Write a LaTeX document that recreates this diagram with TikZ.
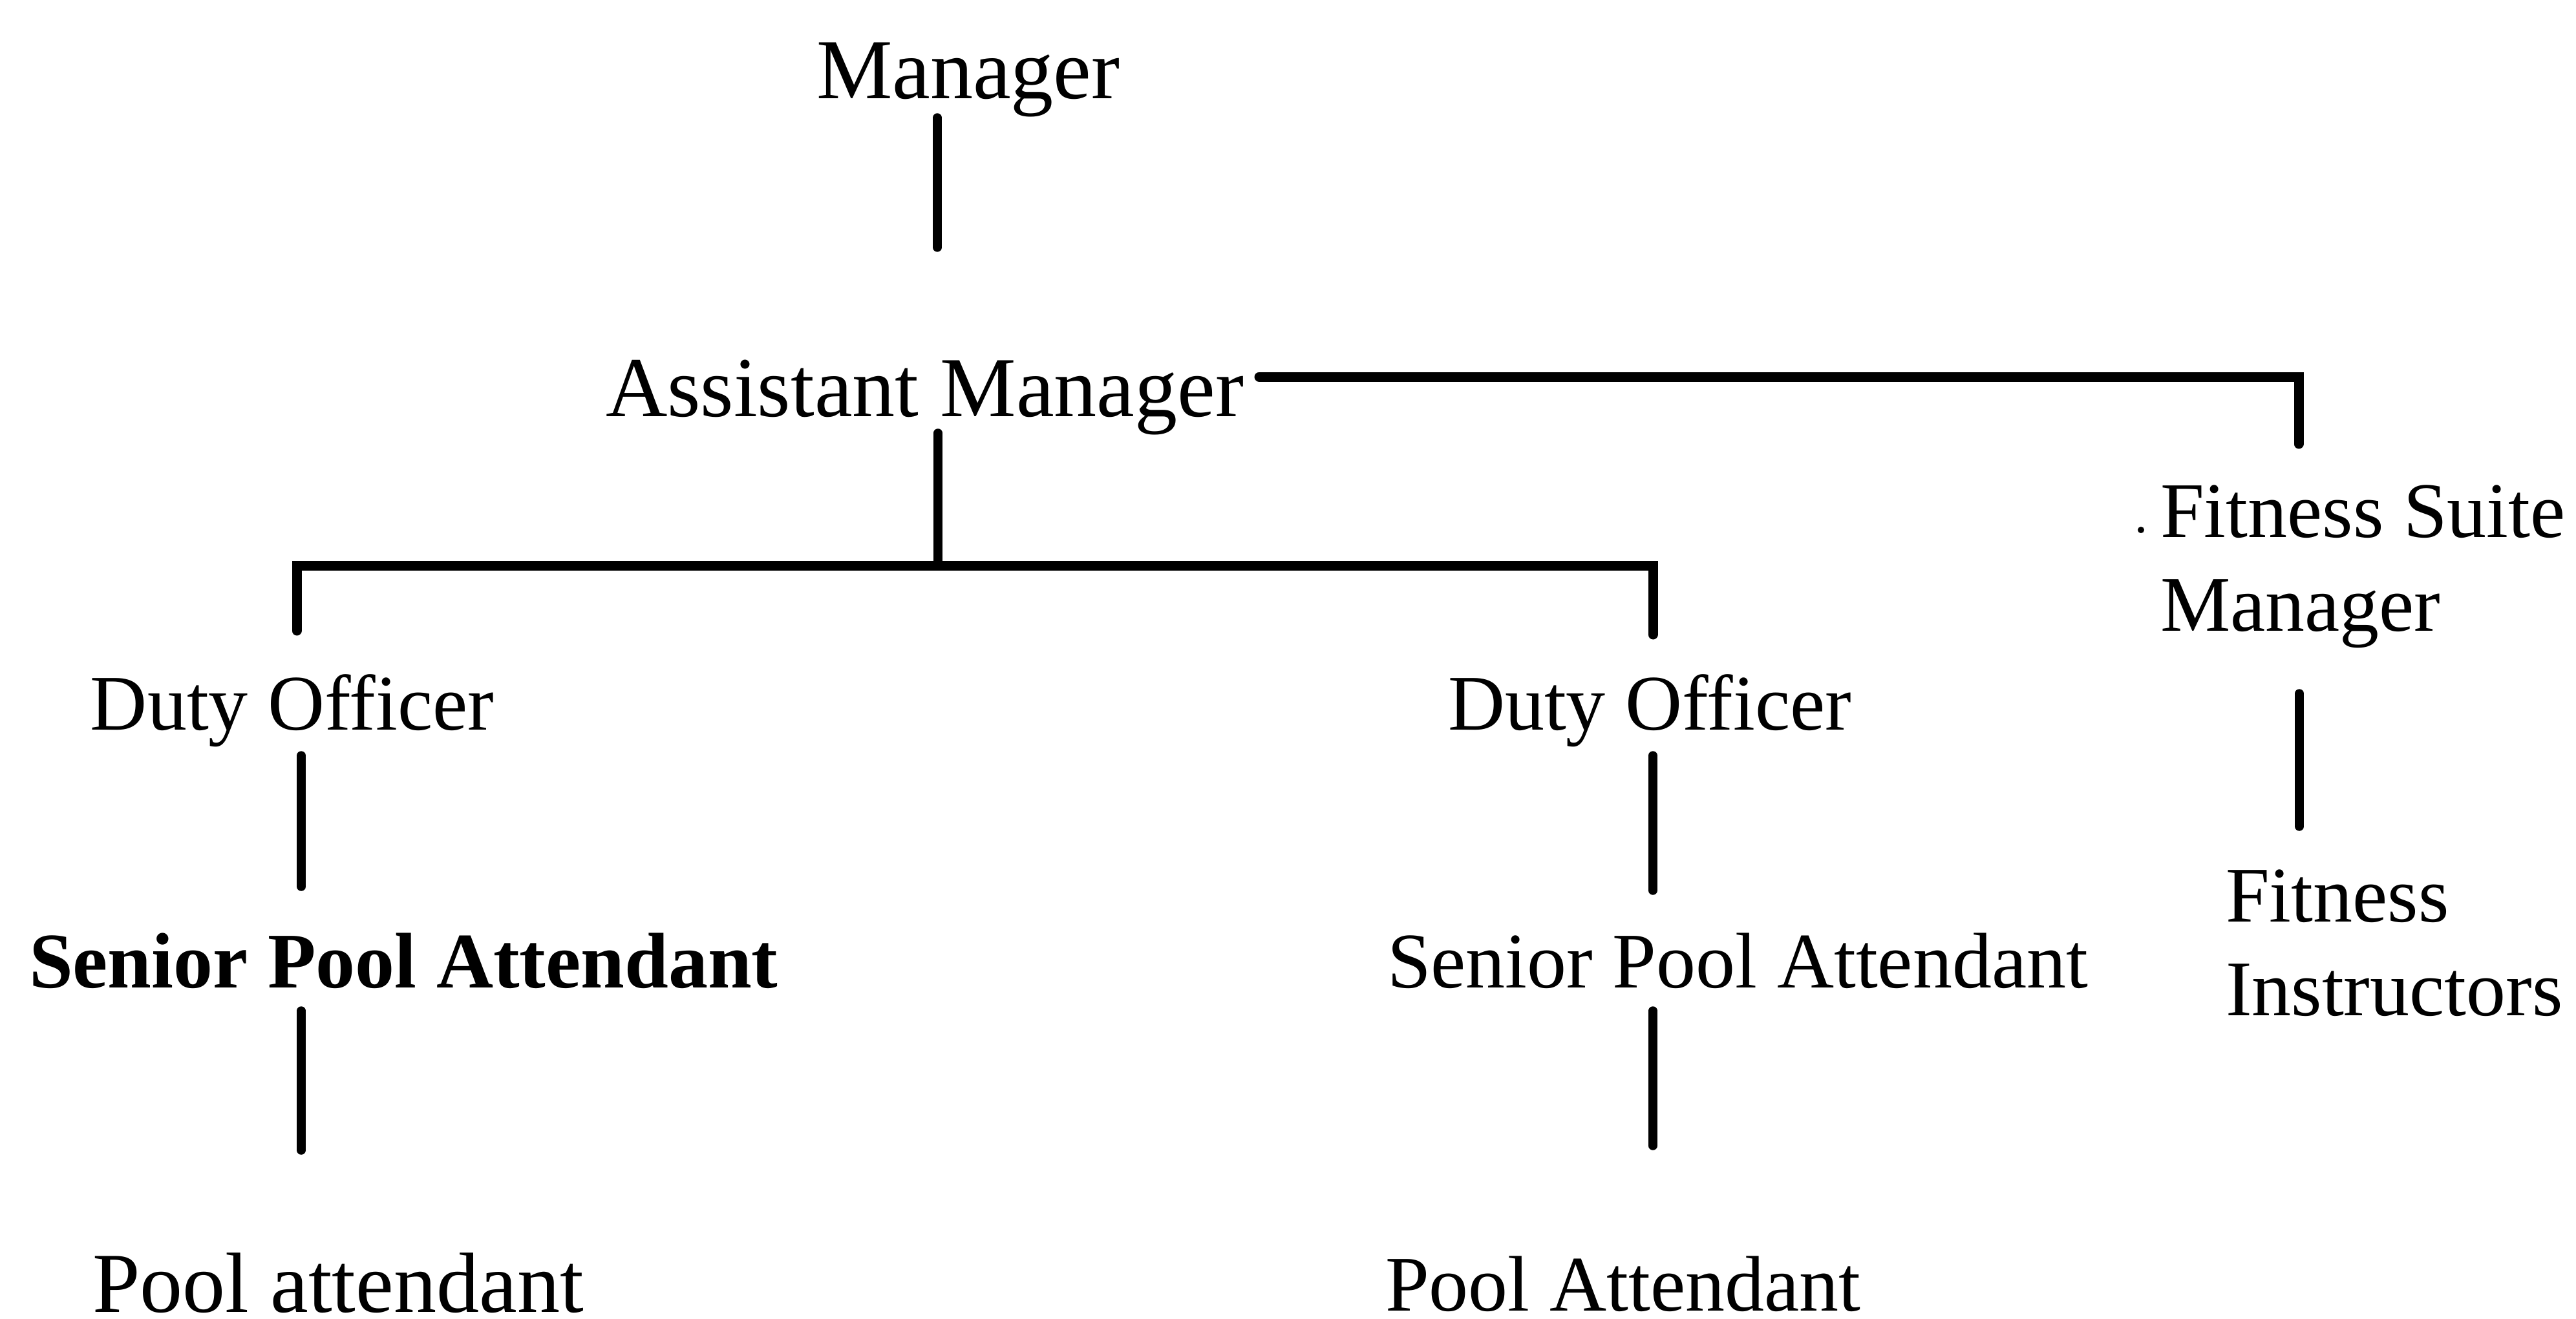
\documentclass[tikz,border=0pt]{standalone}
\usepackage{fontspec}
\setmainfont{Liberation Serif}
\begin{document}
\begin{tikzpicture}[x=1cm,y=-1cm,
  lbl/.style={inner sep=0pt, outer sep=0pt, anchor=base west},
  big/.style={font=\fontsize{37.6}{45}\selectfont},
  reg/.style={font=\fontsize{34.7}{41.2}\selectfont},
  link/.style={line width=0.135cm, line cap=round},
  bracket/.style={line width=0.15cm, line cap=round, line join=miter}]
\useasboundingbox (0,0) rectangle (39.85,20.41);

% staff titles (two-line titles are placed by the baseline of their last line)
\node[lbl,big] (mgr)  at (12.63,1.53)  {Manager};
\node[lbl,big] (am)   at (9.37,6.44)   {Assistant Manager};
\node[lbl,reg] (do1)  at (1.40,11.29)  {Duty Officer};
\node[lbl,reg] (do2)  at (22.40,11.29) {Duty Officer};
\node[lbl,reg] (spa1) at (0.45,15.28)  {\bfseries Senior Pool Attendant};
\node[lbl,reg] (spa2) at (21.46,15.28) {Senior Pool Attendant};
\node[lbl,big] (pa1)  at (1.43,20.30)  {Pool attendant};
\node[lbl,reg] (pa2)  at (21.43,20.28) {Pool Attendant};
\node[lbl,reg,align=left] (fsm) at (33.42,9.76)  {Fitness Suite\\Manager};
\node[lbl,reg,align=left] (fi)  at (34.43,15.71) {Fitness\\Instructors};
\fill (33.12,8.20) circle (0.05);

% connector end points
\coordinate (mgr-d)  at (14.50,1.82);
\coordinate (am-u)   at (14.50,3.83);
\coordinate (am-d)   at (14.51,6.70);
\coordinate (split)  at (14.51,8.75);
\coordinate (do1-u)  at (4.59,9.76);
\coordinate (do2-u)  at (25.57,9.82);
\coordinate (am-r)   at (19.48,5.83);
\coordinate (fsm-u)  at (35.56,6.87);
\coordinate (do1-d)  at (4.66,11.69);
\coordinate (spa1-u) at (4.66,13.72);
\coordinate (spa1-d) at (4.66,15.64);
\coordinate (pa1-u)  at (4.66,17.80);
\coordinate (do2-d)  at (25.57,11.69);
\coordinate (spa2-u) at (25.57,13.78);
\coordinate (spa2-d) at (25.57,15.64);
\coordinate (pa2-u)  at (25.57,17.73);
\coordinate (fsm-d)  at (35.57,10.73);
\coordinate (fi-u)   at (35.57,12.79);

% connectors
\draw[link] (mgr-d) -- (am-u);
\draw[link] (am-d) -- (split);
\draw[bracket] (do1-u) |- (split) -| (do2-u);
\draw[bracket] (am-r) -| (fsm-u);
\draw[link] (do1-d) -- (spa1-u);
\draw[link] (spa1-d) -- (pa1-u);
\draw[link] (do2-d) -- (spa2-u);
\draw[link] (spa2-d) -- (pa2-u);
\draw[link] (fsm-d) -- (fi-u);
\end{tikzpicture}
\end{document}
